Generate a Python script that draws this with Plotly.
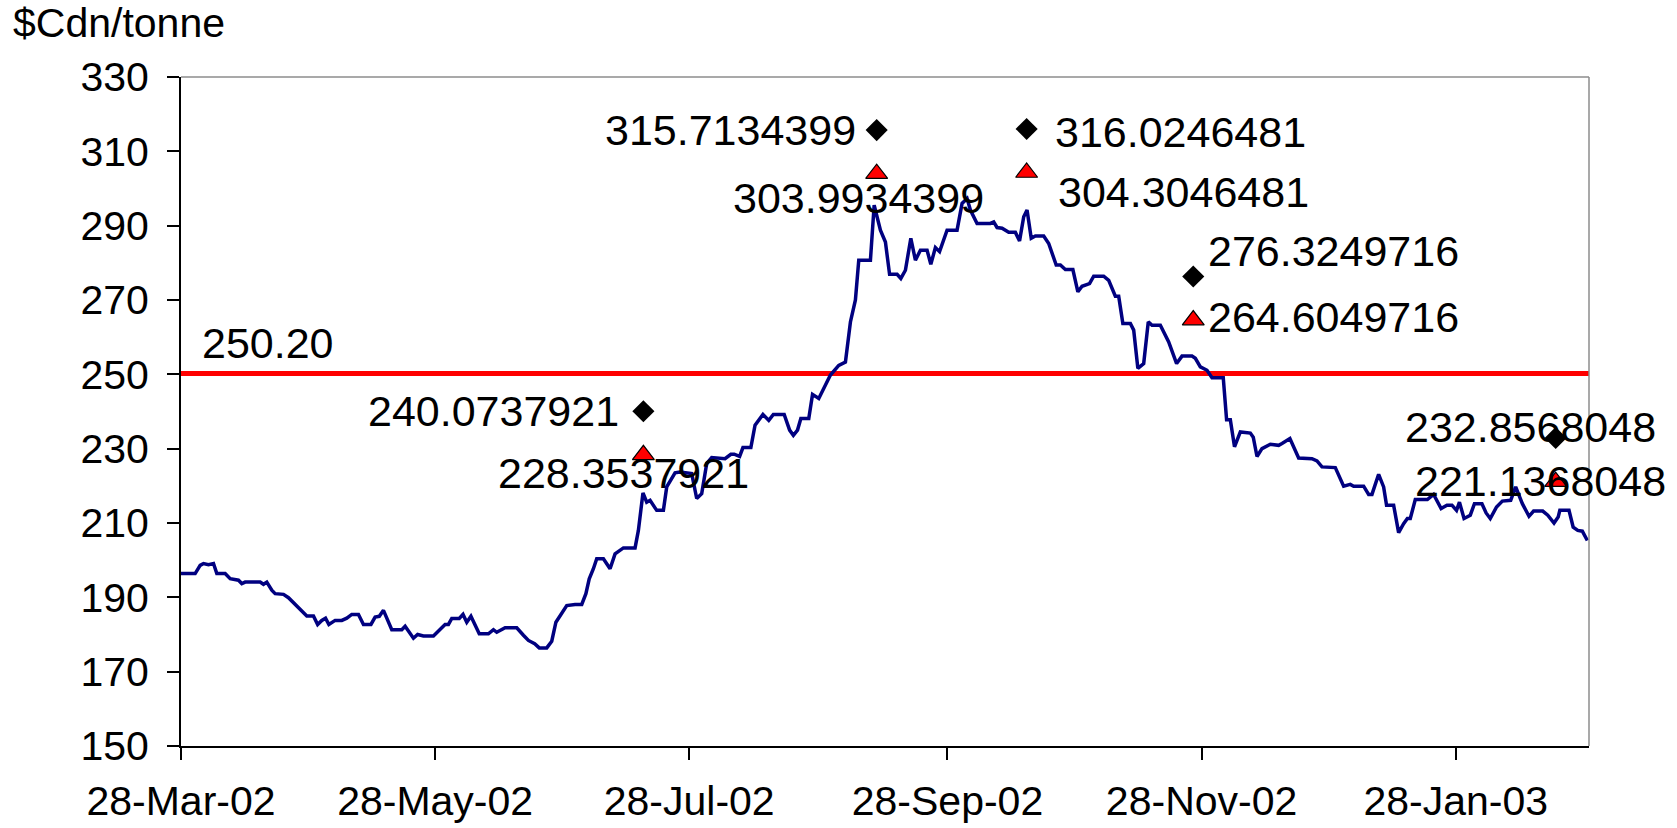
import pandas as pd
import plotly.graph_objects as go

# ---------------- data ----------------
BASE_DATE = "2002-03-28"
AXIS_END = "2003-03-01"

# price series: days since 28-Mar-02, $Cdn/tonne
DAY_OFFSETS = [
    0, 3.4, 4.6, 5.4, 6.6, 7.8, 8.6, 10.6, 11.8, 13.8, 14.6, 15.4, 19.0, 19.8, 20.6, 21.8, 22.6, 24.6, 25.8,
    27.4, 29.0, 30.2, 31.8, 32.8, 33.8, 34.7, 35.5, 37.0, 38.6, 39.8, 41.0, 42.6, 43.8, 45.6, 46.6, 47.6,
    48.6, 50.6, 53.0, 53.8, 55.8, 56.8, 58.2, 60.6, 62.6, 63.4, 64.2, 65.0, 66.8, 67.7, 68.6, 69.6, 71.6,
    73.8, 75.0, 75.8, 77.8, 80.6, 82.2, 83.4, 84.9, 86.0, 87.8, 89.0, 90.0, 91.0, 92.6, 94.6, 96.2, 97.2,
    98.0, 99.0, 99.8, 101.4, 103.0, 104.2, 106.2, 109.0, 109.8, 110.9, 111.8, 112.6, 114.2, 115.8, 116.6,
    118.6, 119.8, 122.6, 123.8, 125.0, 126.2, 127.4, 130.6, 132.0, 132.8, 134.1, 134.9, 136.8, 137.8,
    139.7, 141.1, 142.2, 144.8, 146.1, 147.0, 148.0, 148.8, 150.7, 151.6, 153.1, 155.9, 157.9, 159.5,
    160.7, 161.9, 162.7, 165.5, 166.4, 167.9, 169.1, 170.1, 171.9, 172.8, 173.9, 175.2, 176.3, 177.5,
    179.1, 180.0, 181.1, 182.1, 183.9, 186.3, 187.5, 188.7, 189.5, 191.1, 194.3, 195.1, 195.9, 197.1,
    198.7, 200.3, 201.3, 202.3, 203.1, 204.1, 205.1, 207.1, 208.3, 210.1, 211.1, 212.3, 214.1, 215.3,
    216.3, 218.1, 219.1, 221.5, 222.7, 224.3, 225.1, 226.1, 227.9, 228.7, 229.7, 231.1, 232.2, 233.1,
    235.1, 237.1, 239.0, 240.3, 242.7, 243.5, 244.7, 246.3, 247.5, 250.2, 251.0, 251.9, 252.9, 254.3,
    256.7, 257.4, 258.3, 259.5, 261.5, 263.5, 264.3, 266.2, 268.3, 271.5, 272.7, 273.9, 277.1, 279.1,
    280.7, 281.5, 283.9, 285.1, 285.9, 287.5, 288.7, 289.4, 291.1, 292.3, 293.5, 294.4, 295.1, 296.3,
    299.2, 300.7, 302.5, 303.9, 305.1, 306.2, 306.9, 308.0, 309.5, 310.5, 312.3, 313.3, 314.3, 315.8,
    317.2, 319.2, 320.4, 322.0, 323.6, 324.7, 326.9, 328.1, 329.6, 330.6, 331.0, 333.2, 334.2, 335.3,
    336.4, 337.6,
]
PRICES = [
    196.4, 196.4, 198.6, 199.1, 198.8, 199.1, 196.4, 196.4, 195.0, 194.6, 193.7, 194.1, 194.1, 193.5, 194.1, 191.9, 191.0, 190.8, 189.9,
    188.1, 186.5, 185.0, 185.0, 182.7, 183.8, 184.4, 182.7, 183.8, 183.8, 184.4, 185.4, 185.4, 182.7, 182.7, 184.7, 184.9,
    186.5, 181.3, 181.3, 182.2, 179.0, 180.0, 179.6, 179.6, 181.8, 182.7, 182.7, 184.3, 184.3, 185.4, 183.3, 184.9, 180.2,
    180.2, 181.3, 180.6, 181.8, 181.8, 179.8, 178.4, 177.5, 176.4, 176.4, 178.2, 183.3, 185.1, 187.8, 188.1, 188.1, 191.0,
    195.0, 197.7, 200.4, 200.4, 197.7, 201.7, 203.3, 203.3, 208.0, 218.1, 215.6, 216.1, 213.4, 213.4, 219.7,
    223.5, 223.7, 223.3, 216.6, 217.9, 226.0, 227.6, 227.3, 228.5, 228.5, 227.9, 230.3, 230.3, 236.3,
    239.2, 237.6, 239.2, 239.2, 235.0, 233.6, 235.0, 238.1, 238.1, 244.6, 243.5, 249.8, 252.4, 253.3,
    264.1, 270.0, 280.7, 280.7, 295.5, 288.8, 285.6, 276.9, 276.9, 275.8, 278.0, 286.6, 280.7, 283.4,
    283.4, 279.6, 284.1, 283.0, 288.8, 288.8, 296.0, 297.3, 294.2, 290.6, 290.6, 291.0, 289.5, 289.3,
    288.2, 288.2, 285.9, 292.4, 294.2, 286.6, 287.2, 287.2, 285.2, 279.4, 279.4, 278.2, 278.2, 272.2,
    273.7, 274.4, 276.4, 276.4, 275.3, 271.0, 271.0, 263.7, 263.7, 261.9, 251.6, 252.9, 264.1, 263.2,
    263.2, 258.7, 252.9, 254.9, 254.9, 254.3, 252.0, 251.1, 249.1, 249.1, 237.8, 237.8, 230.5, 234.5,
    234.2, 233.1, 227.9, 230.0, 231.2, 230.9, 231.4, 232.7, 227.5, 227.3, 226.7, 225.1, 224.9, 219.9,
    220.4, 219.9, 219.9, 217.7, 217.7, 223.1, 219.7, 214.8, 214.8, 207.4, 209.8, 211.2, 211.2, 216.3,
    216.3, 217.7, 213.9, 214.8, 214.8, 213.4, 215.6, 211.2, 212.1, 215.2, 215.2, 212.7, 211.2, 214.3,
    215.9, 216.1, 219.7, 215.2, 211.8, 213.2, 213.2, 212.1, 210.0, 211.6, 213.4, 213.4, 208.9, 208.0,
    207.8, 205.3,
]

THRESHOLD = 250.20
THRESHOLD_LABEL = "250.20"

POINT_DATES = ["2002-07-17", "2002-09-11", "2002-10-17", "2002-11-26", "2003-02-21"]
DIAMOND_VALUES = [240.0737921, 315.7134399, 316.0246481, 276.3249716, 232.8568048]
TRIANGLE_VALUES = [228.3537921, 303.9934399, 304.3046481, 264.6049716, 221.1368048]

TICK_DATES = ["2002-03-28", "2002-05-28", "2002-07-28", "2002-09-28", "2002-11-28", "2003-01-28"]
Y_TICKS = [150, 170, 190, 210, 230, 250, 270, 290, 310, 330]
Y_TITLE = "$Cdn/tonne"

# label placement (anchor, x shift px, y shift px) -- layout only
DIAMOND_LABEL_POS = [("right", -22, 0), ("right", -19, 0), ("left", 26, -3), ("left", 13, 25), ("center", -25, 11)]
TRIANGLE_LABEL_POS = [("center", -20, -18), ("center", -18, -24), ("left", 29, -19), ("left", 13, 3), ("center", -15, 1)]

# ---------------- figure ----------------
FONT = "Liberation Sans, Arial, sans-serif"
TICK_FS = 41
LABEL_FS = 43

dates = pd.Timestamp(BASE_DATE) + pd.to_timedelta(DAY_OFFSETS, unit="D")

fig = go.Figure()
fig.add_trace(go.Scatter(x=[BASE_DATE, AXIS_END], y=[THRESHOLD, THRESHOLD], mode="lines",
                         line=dict(color="#FF0000", width=5), showlegend=False, hoverinfo="skip"))
fig.add_trace(go.Scatter(x=dates, y=PRICES, mode="lines",
                         line=dict(color="#000080", width=3.5), showlegend=False))
fig.add_trace(go.Scatter(x=POINT_DATES, y=DIAMOND_VALUES, mode="markers",
                         marker=dict(symbol="diamond", size=17, color="black", line=dict(width=0)),
                         showlegend=False))
fig.add_trace(go.Scatter(x=POINT_DATES, y=TRIANGLE_VALUES, mode="markers",
                         marker=dict(symbol="triangle-up", size=19, color="#FF0000",
                                     line=dict(color="black", width=1.2)),
                         showlegend=False))

annotations = []
for d, v, (anc, dx, dy) in zip(POINT_DATES, DIAMOND_VALUES, DIAMOND_LABEL_POS):
    annotations.append(dict(x=d, y=v, xref="x", yref="y", text=f"{v:.7f}", showarrow=False,
                            xanchor=anc, yanchor="middle", xshift=dx, yshift=dy,
                            font=dict(family=FONT, size=LABEL_FS, color="black")))
for d, v, (anc, dx, dy) in zip(POINT_DATES, TRIANGLE_VALUES, TRIANGLE_LABEL_POS):
    annotations.append(dict(x=d, y=v, xref="x", yref="y", text=f"{v:.7f}", showarrow=False,
                            xanchor=anc, yanchor="middle", xshift=dx, yshift=dy,
                            font=dict(family=FONT, size=LABEL_FS, color="black")))
annotations.append(dict(x=BASE_DATE, y=THRESHOLD, xref="x", yref="y", text=THRESHOLD_LABEL,
                        showarrow=False, xanchor="left", yanchor="middle", xshift=19, yshift=31,
                        font=dict(family=FONT, size=LABEL_FS, color="black")))
annotations.append(dict(x=0, y=1, xref="paper", yref="paper", text=Y_TITLE, showarrow=False,
                        xanchor="left", yanchor="middle", xshift=-170, yshift=54,
                        font=dict(family=FONT, size=TICK_FS, color="black")))

fig.update_layout(
    width=1677, height=828,
    margin=dict(l=181, r=88, t=77, b=82, autoexpand=False),
    paper_bgcolor="white", plot_bgcolor="white",
    font=dict(family=FONT, size=TICK_FS, color="black"),
    annotations=annotations,
    shapes=[
        dict(type="line", xref="paper", yref="paper", x0=0, x1=1, y0=1, y1=1,
             line=dict(color="#8C8C8C", width=1.5)),
        dict(type="line", xref="paper", yref="paper", x0=1, x1=1, y0=0, y1=1,
             line=dict(color="#8C8C8C", width=1.5)),
    ],
)
fig.update_xaxes(
    range=[BASE_DATE, AXIS_END], type="date", automargin=False,
    tickvals=TICK_DATES, tickformat="%d-%b-%y",
    showline=True, linecolor="black", linewidth=2,
    ticks="outside", ticklen=12, tickwidth=2, tickcolor="black",
    showgrid=False, zeroline=False, ticklabelstandoff=6,
    tickfont=dict(family=FONT, size=TICK_FS, color="black"),
)
fig.update_yaxes(
    range=[150, 330], tickvals=Y_TICKS, automargin=False,
    showline=True, linecolor="black", linewidth=2,
    ticks="outside", ticklen=12, tickwidth=2, tickcolor="black",
    showgrid=False, zeroline=False, ticklabelstandoff=10,
    tickfont=dict(family=FONT, size=TICK_FS, color="black"),
)

# remove the browser's default 8px page margin so the figure fills the window exactly
fig.write_html("out.html", config={"displayModeBar": False},
               post_script="document.body.style.margin='0';")
